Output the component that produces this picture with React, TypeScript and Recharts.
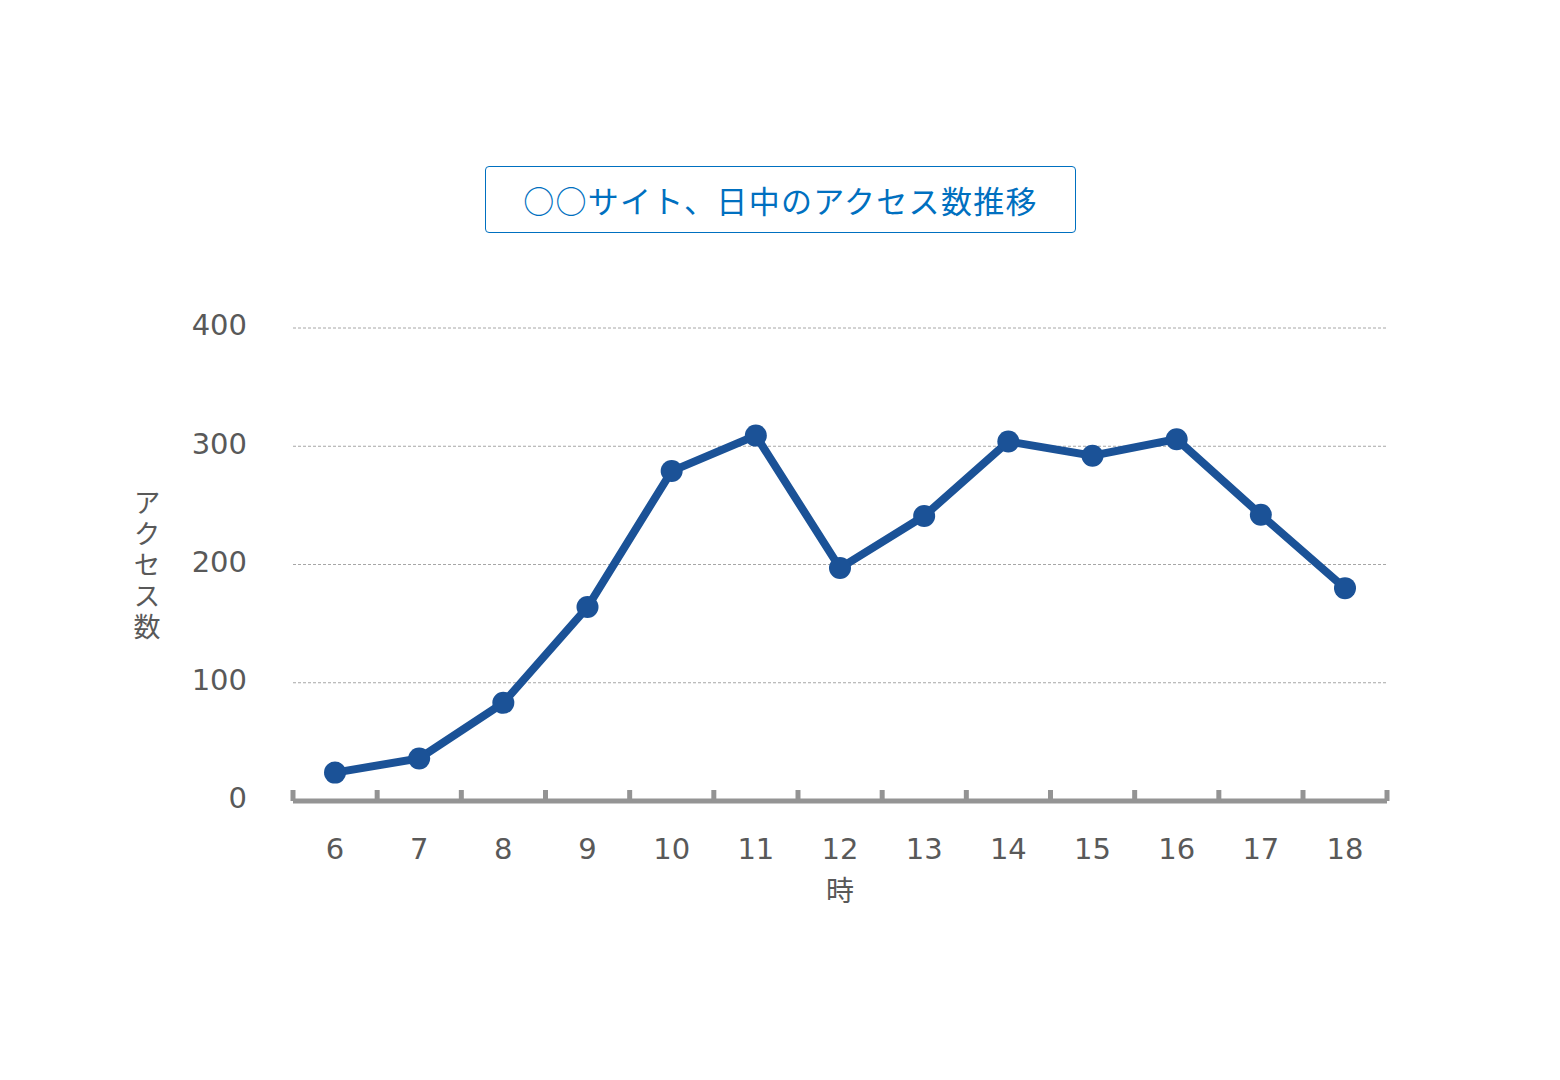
import { LineChart, Line, XAxis, YAxis, CartesianGrid } from 'recharts';

const hours = ['6', '7', '8', '9', '10', '11', '12', '13', '14', '15', '16', '17', '18'];
const accessCounts = [24, 36, 83, 164, 279, 309, 197, 241, 304, 292, 306, 242, 180];
const yTicks = [0, 100, 200, 300, 400];

const chartTitle = '○○サイト、日中のアクセス数推移';
const yLabel = 'アクセス数';
const xLabel = '時';

const data = hours.map((h, i) => ({ hour: h, count: accessCounts[i] }));

const FONT = '"DejaVu Sans", "Noto Sans CJK JP", sans-serif';
const CJK_FONT = '"Noto Sans CJK JP", sans-serif';
const LINE_COLOR = '#1B5297';
const AXIS_COLOR = '#949494';
const TEXT_COLOR = '#595959';
const HALF_STEP = 42;

function HourTick(props: any) {
    const { x, y, payload, index } = props;
    const last = index === hours.length - 1;
    return (
        <g>
            <line x1={x - HALF_STEP} x2={x - HALF_STEP} y1={y - 11} y2={y} stroke={AXIS_COLOR} strokeWidth={5} />
            {last && (
                <line x1={x + HALF_STEP} x2={x + HALF_STEP} y1={y - 11} y2={y} stroke={AXIS_COLOR} strokeWidth={5} />
            )}
            <text x={x} y={y + 58} textAnchor="middle" fontSize={29} fill={TEXT_COLOR} fontFamily={FONT}>
                {payload.value}
            </text>
        </g>
    );
}

function VerticalLabel() {
    return (
        <text
            x={147}
            y={567}
            textAnchor="middle"
            fontSize={27}
            fill={TEXT_COLOR}
            fontFamily={CJK_FONT}
            style={{ writingMode: 'vertical-rl', letterSpacing: 4 }}
        >
            {yLabel}
        </text>
    );
}

export default function App() {
    return (
        <div style={{ position: 'absolute', left: 0, top: 0, width: 1560, height: 1080, background: '#fff' }}>
            <div
                style={{
                    position: 'absolute',
                    left: 485,
                    top: 166,
                    width: 589,
                    height: 65,
                    border: '1px solid #0070C0',
                    borderRadius: 4,
                    color: '#0070C0',
                    fontFamily: CJK_FONT,
                    fontSize: 31,
                    letterSpacing: 1.3,
                    display: 'flex',
                    alignItems: 'center',
                    justifyContent: 'center',
                }}
            >
                {chartTitle}
            </div>
            <LineChart
                width={1560}
                height={1080}
                data={data}
                margin={{ top: 328, right: 173, bottom: 179, left: 0 }}
            >
                <CartesianGrid vertical={false} stroke="#A6A6A6" strokeDasharray="3 2" horizontalValues={[100, 200, 300, 400]} />
                <XAxis
                    dataKey="hour"
                    padding={{ left: HALF_STEP, right: HALF_STEP }}
                    axisLine={{ stroke: AXIS_COLOR, strokeWidth: 5 }}
                    tickLine={false}
                    tickSize={0}
                    tickMargin={0}
                    tick={<HourTick />}
                    interval={0}
                    height={100}
                    label={{ value: xLabel, position: 'insideBottom', offset: 0, fontSize: 28, fill: TEXT_COLOR, fontFamily: CJK_FONT }}
                />
                <YAxis
                    domain={[0, 400]}
                    ticks={yTicks}
                    width={293}
                    axisLine={false}
                    tickLine={false}
                    tickMargin={40}
                    tick={{ fontSize: 29, fill: TEXT_COLOR, fontFamily: FONT, dy: -3 }}
                    label={<VerticalLabel />}
                />
                <Line
                    type="linear"
                    dataKey="count"
                    stroke={LINE_COLOR}
                    strokeWidth={8}
                    dot={{ r: 11, fill: LINE_COLOR, stroke: LINE_COLOR, strokeWidth: 0 }}
                    activeDot={false}
                    isAnimationActive={false}
                />
            </LineChart>
        </div>
    );
}
